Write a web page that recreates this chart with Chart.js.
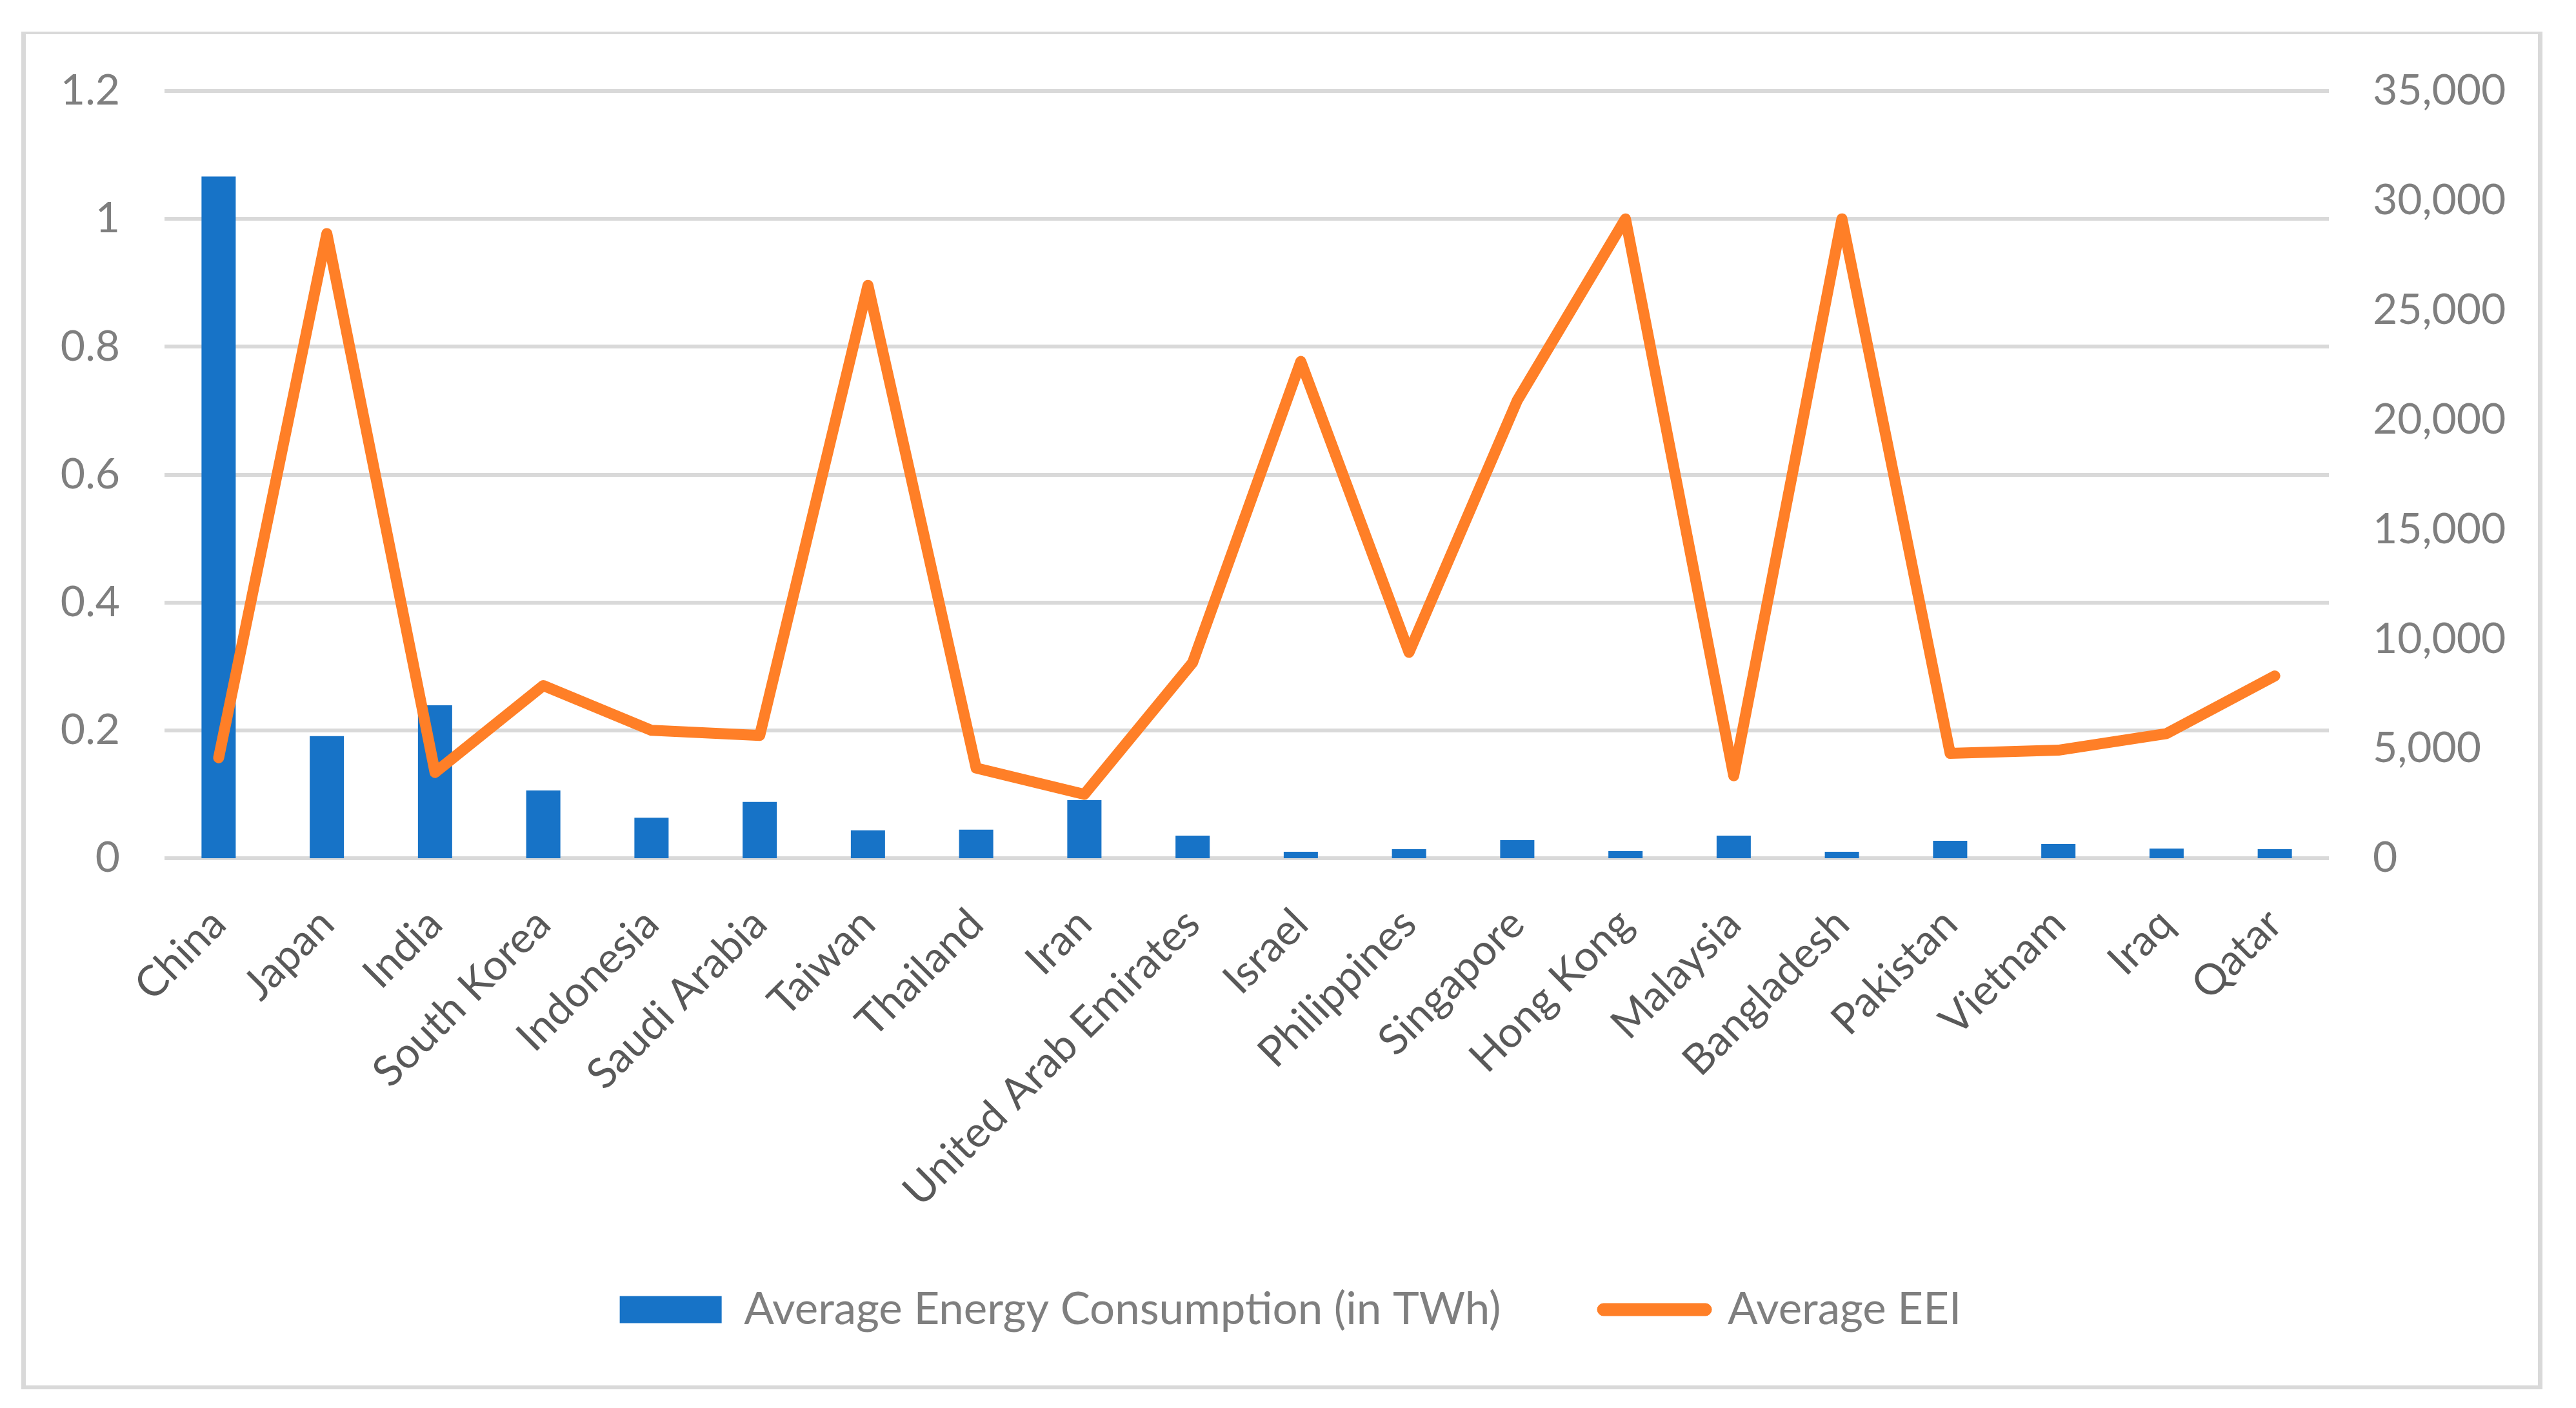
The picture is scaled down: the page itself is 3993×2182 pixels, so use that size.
<!DOCTYPE html>
<html>
<head>
<meta charset="utf-8">
<script src="https://cdn.jsdelivr.net/npm/chart.js@4.4.1/dist/chart.umd.min.js"></script>
<style>
  html, body { margin: 0; padding: 0; background: #ffffff; }
  #frame { position: absolute; left: 33px; top: 49px; width: 3908px; height: 2104px;
           box-sizing: border-box; border-style: solid; border-color: #D9D9D9;
           border-width: 4px 7px 6px 7px; z-index: 0; }
  #c { position: absolute; left: 0; top: 0; z-index: 1; }
</style>
</head>
<body>
<div id="frame"></div>
<canvas id="c" width="3993" height="2182"></canvas>
<script>
const categories = ["China", "Japan", "India", "South Korea", "Indonesia", "Saudi Arabia", "Taiwan",
  "Thailand", "Iran", "United Arab Emirates", "Israel", "Philippines", "Singapore", "Hong Kong",
  "Malaysia", "Bangladesh", "Pakistan", "Vietnam", "Iraq", "Qatar"];
const consumption = [31100, 5570, 6980, 3090, 1850, 2570, 1270, 1300, 2650, 1030,
  295, 412, 824, 324, 1030, 295, 795, 648, 442, 412];
const eei = [0.157, 0.977, 0.134, 0.270, 0.200, 0.192, 0.896, 0.141, 0.100, 0.306,
  0.777, 0.322, 0.716, 1.0, 0.129, 1.0, 0.164, 0.169, 0.195, 0.285];
const seriesNames = ["Average Energy Consumption (in TWh)", "Average EEI"];
const leftTicks = { min: 0, max: 1.2, step: 0.2 };
const rightTicks = { min: 0, max: 35000, step: 5000 };

const BLUE = '#1773C7';
const ORANGE = '#FF7F27';
const FONT = 'Lato';

new Chart(document.getElementById('c'), {
  type: 'bar',
  data: {
    labels: categories,
    datasets: [
      {
        type: 'bar', label: seriesNames[0], data: consumption, yAxisID: 'y1',
        backgroundColor: BLUE, borderWidth: 0, barPercentage: 0.316, categoryPercentage: 1.0, order: 2
      },
      {
        type: 'line', label: seriesNames[1], data: eei, yAxisID: 'y',
        borderColor: ORANGE, backgroundColor: ORANGE, borderWidth: 17, pointRadius: 0,
        borderCapStyle: 'round', borderJoinStyle: 'round', tension: 0, order: 1
      }
    ]
  },
  options: {
    responsive: false, animation: false, devicePixelRatio: 1,
    layout: { padding: { left: 73, right: 65, top: 141, bottom: 108 } },
    plugins: {
      tooltip: { enabled: false },
      legend: {
        position: 'bottom', align: 'center',
        labels: {
          usePointStyle: true, pointStyleWidth: 158, boxHeight: 42, padding: 159,
          color: '#7F7F7F', font: { family: FONT, size: 69 },
          generateLabels(chart) {
            const ds = chart.data.datasets;
            return [
              { text: ds[0].label, fillStyle: BLUE, strokeStyle: BLUE, lineWidth: 0,
                pointStyle: 'rect', datasetIndex: 0, fontColor: '#7F7F7F', hidden: false },
              { text: ds[1].label, fillStyle: ORANGE, strokeStyle: ORANGE, lineWidth: 20,
                lineCap: 'round', pointStyle: 'line', datasetIndex: 1, fontColor: '#7F7F7F', hidden: false }
            ];
          }
        }
      }
    },
    scales: {
      x: {
        type: 'category', offset: true,
        grid: { display: false }, border: { display: false },
        ticks: { autoSkip: false, maxRotation: 45, minRotation: 45, padding: 55,
                 color: '#595959', font: { family: FONT, size: 66 } },
        afterFit(scale) {
          scale.height = 506;
          // let long rotated labels extend below the axis box instead of being clipped
          scale._computeLabelArea = function () { return undefined; };
        }
      },
      y: {
        position: 'left', min: leftTicks.min, max: leftTicks.max,
        ticks: { stepSize: leftTicks.step, padding: 69, color: '#7F7F7F', font: { family: FONT, size: 66 },
                 callback: (v) => String(parseFloat(Number(v).toFixed(2))) },
        grid: { color: '#D9D9D9', lineWidth: 6, drawTicks: false },
        border: { display: false },
        afterFit(scale) { scale.width = 182; }
      },
      y1: {
        position: 'right', min: rightTicks.min, max: rightTicks.max,
        ticks: { stepSize: rightTicks.step, padding: 68, color: '#7F7F7F', font: { family: FONT, size: 66 } },
        grid: { display: false, drawTicks: false },
        border: { display: false },
        afterFit(scale) { scale.width = 318; }
      }
    }
  }
});
</script>
</body>
</html>
